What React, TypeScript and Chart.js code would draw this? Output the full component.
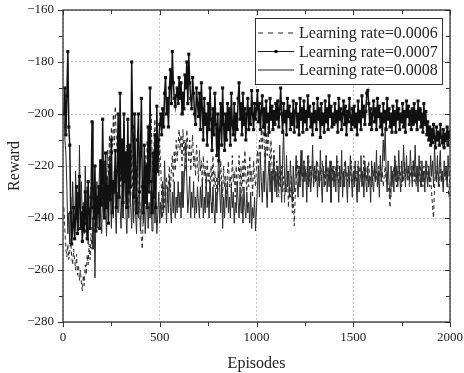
import React, { useEffect, useRef } from "react";
import { Chart, registerables } from "chart.js";
Chart.register(...registerables);

const seriesLabels = ["Learning rate=0.0006", "Learning rate=0.0007", "Learning rate=0.0008"];
const xTicks = [0, 500, 1000, 1500, 2000];
const yTicks = [-280, -260, -240, -220, -200, -180, -160];

// reward every 5 episodes (5 .. 2000), one row = 100 episodes
const lr0006 = [
  -236, -245, -252, -255, -250, -256, -253, -248, -255, -258, -252, -256, -260, -254, -262, -258, -264, -260, -265, -268,
  -262, -266, -258, -262, -254, -258, -250, -256, -246, -252, -242, -248, -236, -244, -238, -232, -240, -228, -236, -222,
  -232, -240, -226, -218, -230, -214, -224, -208, -220, -205, -216, -200, -212, -197, -208, -215, -222, -206, -218, -228,
  -210, -222, -204, -218, -230, -212, -226, -236, -220, -232, -214, -228, -240, -222, -234, -226, -218, -238, -230, -242,
  -248, -252, -238, -226, -216, -230, -210, -224, -204, -218, -200, -214, -226, -212, -202, -220, -208, -216, -224, -212,
  -220, -232, -240, -228, -236, -230, -224, -234, -226, -220, -230, -222, -216, -226, -214, -222, -210, -218, -212, -206,
  -214, -208, -220, -206, -216, -210, -222, -206, -212, -218, -210, -222, -214, -208, -220, -216, -224, -212, -218, -226,
  -214, -222, -218, -228, -216, -224, -220, -230, -218, -226, -222, -232, -220, -226, -216, -228, -222, -234, -224, -230,
  -222, -228, -218, -226, -232, -220, -228, -224, -234, -222, -218, -228, -224, -230, -216, -226, -222, -232, -220, -228,
  -224, -216, -228, -220, -232, -218, -226, -214, -224, -230, -220, -228, -216, -226, -222, -232, -218, -224, -228, -220,
  -214, -222, -210, -218, -206, -214, -202, -212, -220, -208, -216, -204, -214, -222, -210, -220, -226, -214, -222, -228,
  -218, -226, -232, -222, -228, -220, -230, -224, -234, -226, -230, -222, -236, -228, -232, -224, -238, -230, -243, -232,
  -226, -218, -224, -220, -228, -216, -222, -226, -218, -224, -220, -228, -222, -216, -226, -220, -224, -218, -228, -222,
  -222, -226, -218, -224, -228, -220, -226, -218, -224, -222, -228, -216, -224, -220, -226, -222, -218, -226, -224, -220,
  -226, -220, -224, -218, -228, -222, -226, -220, -224, -228, -218, -224, -222, -226, -220, -228, -222, -218, -226, -224,
  -220, -226, -222, -228, -218, -224, -220, -226, -222, -228, -216, -224, -220, -226, -222, -218, -226, -224, -228, -220,
  -224, -218, -226, -222, -228, -220, -224, -218, -226, -222, -228, -224, -220, -226, -222, -228, -230, -236, -226, -222,
  -226, -220, -224, -218, -228, -222, -226, -220, -224, -228, -222, -226, -218, -224, -220, -226, -222, -228, -224, -220,
  -224, -218, -226, -222, -228, -220, -224, -226, -218, -224, -222, -228, -220, -226, -224, -218, -226, -222, -228, -224,
  -230, -236, -240, -228, -222, -226, -220, -224, -228, -218, -226, -222, -228, -224, -220, -226, -222, -228, -232, -224,
];

const lr0007 = [
  -200, -190, -208, -193, -176, -205, -212, -238, -250, -243, -236, -248, -240, -228, -246, -235, -224, -244, -238, -249,
  -236, -245, -230, -242, -248, -226, -238, -244, -232, -203, -236, -240, -220, -245, -232, -238, -228, -244, -218, -235,
  -202, -232, -240, -215, -236, -228, -242, -220, -233, -210, -238, -226, -230, -214, -236, -222, -200, -232, -192, -225,
  -210, -234, -200, -226, -215, -236, -202, -230, -212, -228, -180, -205, -232, -200, -222, -238, -210, -200, -230, -216,
  -194, -228, -238, -212, -234, -220, -236, -205, -230, -190, -226, -238, -215, -232, -208, -236, -197, -222, -210, -204,
  -200, -208, -198, -205, -192, -186, -200, -194, -205, -190, -183, -196, -176, -188, -194, -197, -193, -190, -196, -186,
  -194, -188, -200, -192, -198, -185, -190, -180, -196, -177, -188, -194, -198, -186, -192, -200, -204, -190, -196, -201,
  -192, -206, -188, -198, -210, -194, -204, -200, -212, -196, -206, -190, -202, -214, -198, -208, -192, -204, -216, -200,
  -218, -206, -196, -212, -190, -204, -214, -200, -210, -196, -206, -198, -212, -192, -204, -208, -196, -210, -200, -206,
  -194, -188, -202, -196, -208, -192, -204, -198, -210, -200, -194, -206, -198, -204, -191, -200, -206, -196, -202, -198,
  -191, -203, -196, -206, -199, -193, -205, -198, -208, -195, -203, -200, -207, -194, -202, -197, -206, -199, -204, -196,
  -202, -195, -205, -198, -190, -200, -207, -196, -203, -199, -208, -194, -201, -197, -206, -200, -204, -195, -207, -199,
  -196, -205, -200, -208, -194, -202, -198, -207, -195, -203, -199, -206, -193, -201, -197, -205, -200, -208, -196, -203,
  -199, -206, -194, -202, -198, -209, -196, -204, -200, -207, -195, -203, -198, -206, -193, -201, -197, -205, -200, -204,
  -196, -203, -199, -207, -194, -202, -198, -206, -200, -195, -204, -197, -208, -199, -203, -194, -201, -206, -198, -204,
  -197, -205, -200, -208, -195, -203, -199, -206, -193, -201, -197, -204, -199, -192, -191, -196, -204, -198, -206, -200,
  -195, -203, -198, -206, -194, -201, -197, -205, -200, -208, -196, -203, -199, -206, -194, -202, -198, -205, -200, -207,
  -197, -204, -199, -207, -195, -202, -198, -206, -200, -203, -196, -205, -199, -207, -195, -201, -197, -204, -199, -206,
  -198, -204, -196, -203, -199, -206, -195, -202, -198, -205, -200, -207, -196, -204, -199, -208, -203, -210, -205, -212,
  -206, -211, -204, -209, -213, -205, -210, -207, -212, -204, -209, -211, -206, -213, -208, -210, -205, -212, -207, -209,
];

const lr0008 = [
  -198, -210, -215, -228, -246, -238, -250, -232, -244, -226, -240, -248, -222, -236, -230, -245, -212, -238, -226, -242,
  -234, -246, -220, -240, -228, -250, -236, -244, -228, -240, -252, -232, -263, -240, -226, -244, -230, -218, -238, -246,
  -228, -240, -218, -236, -247, -224, -238, -216, -232, -244, -226, -240, -222, -234, -246, -230, -238, -214, -236, -244,
  -226, -240, -232, -218, -238, -246, -228, -240, -220, -236, -244, -230, -242, -224, -238, -246, -232, -240, -228, -245,
  -238, -226, -242, -232, -246, -236, -228, -244, -234, -240, -230, -245, -236, -228, -242, -234, -246, -238, -230, -242,
  -234, -240, -226, -238, -218, -232, -242, -228, -238, -224, -236, -242, -230, -238, -226, -240, -232, -238, -226, -236,
  -230, -240, -222, -236, -228, -218, -211, -226, -238, -232, -224, -240, -230, -236, -226, -240, -232, -238, -228, -234,
  -240, -228, -236, -226, -240, -232, -238, -224, -236, -230, -240, -226, -234, -238, -228, -236, -242, -230, -238, -226,
  -213, -230, -238, -226, -244, -232, -240, -228, -236, -226, -238, -232, -240, -228, -236, -230, -242, -234, -238, -226,
  -234, -240, -228, -238, -232, -242, -228, -236, -240, -230, -238, -234, -242, -230, -244, -236, -240, -232, -245, -236,
  -228, -220, -232, -216, -226, -234, -222, -230, -214, -228, -236, -224, -218, -230, -222, -234, -226, -216, -230, -222,
  -232, -220, -228, -212, -226, -234, -218, -206, -224, -230, -216, -228, -222, -232, -218, -226, -234, -220, -230, -224,
  -216, -226, -232, -220, -228, -214, -224, -232, -218, -226, -222, -234, -216, -228, -220, -230, -224, -212, -228, -220,
  -226, -218, -232, -222, -228, -214, -226, -234, -220, -228, -224, -216, -230, -222, -228, -218, -234, -224, -220, -228,
  -222, -230, -216, -226, -234, -220, -228, -214, -232, -222, -228, -218, -226, -234, -220, -228, -216, -224, -232, -222,
  -228, -218, -226, -234, -220, -230, -224, -216, -228, -222, -232, -218, -226, -230, -220, -228, -224, -234, -218, -226,
  -230, -220, -226, -214, -228, -222, -232, -216, -226, -220, -210, -218, -205, -222, -230, -218, -226, -232, -220, -228,
  -222, -230, -216, -226, -220, -228, -214, -224, -230, -218, -226, -212, -222, -228, -216, -224, -220, -226, -214, -222,
  -228, -218, -224, -212, -226, -220, -230, -216, -224, -228, -218, -226, -222, -230, -218, -224, -228, -220, -226, -216,
  -224, -218, -228, -212, -222, -226, -216, -228, -220, -214, -226, -222, -230, -218, -224, -220, -228, -216, -224, -222,
];

const EP_STEP = 5;
const toPoints = (arr: number[]) => arr.map((y, i) => ({ x: (i + 1) * EP_STEP, y }));

const FONT = "'Liberation Serif', 'Times New Roman', serif";
const INK = "#222";

const framePlugin = {
  id: "frame",
  afterDraw(chart: any) {
    const { ctx, chartArea } = chart;
    const { left, right, top, bottom } = chartArea;
    const xs = chart.scales.x;
    const ys = chart.scales.y;
    ctx.save();
    ctx.strokeStyle = "#333";
    ctx.lineWidth = 1.3;
    ctx.strokeRect(left, top, right - left, bottom - top);
    ctx.lineWidth = 1;
    ctx.beginPath();
    for (let v = 0; v <= 2000; v += 250) {
      const px = Math.round(xs.getPixelForValue(v)) + 0.5;
      const len = v % 500 === 0 ? 5 : 4;
      ctx.moveTo(px, bottom);
      ctx.lineTo(px, bottom + len);
      ctx.moveTo(px, top);
      ctx.lineTo(px, top + len);
    }
    for (let v = -280; v <= -160; v += 10) {
      const py = Math.round(ys.getPixelForValue(v)) + 0.5;
      const len = v % 20 === 0 ? 5 : 4;
      ctx.moveTo(left - len, py);
      ctx.lineTo(left, py);
      ctx.moveTo(right - len, py);
      ctx.lineTo(right, py);
    }
    ctx.stroke();

    // legend
    const bx = 255, by = 18, bw = 187, bh = 66;
    ctx.fillStyle = "#fff";
    ctx.fillRect(bx, by, bw, bh);
    ctx.strokeStyle = "#333";
    ctx.lineWidth = 1;
    ctx.strokeRect(bx + 0.5, by + 0.5, bw, bh);
    const rows = [33, 51.5, 70];
    ctx.font = `16px ${FONT}`;
    ctx.textBaseline = "middle";
    ctx.textAlign = "left";
    rows.forEach((ry, i) => {
      ctx.beginPath();
      ctx.strokeStyle = "#222";
      ctx.lineWidth = 1;
      ctx.setLineDash(i === 0 ? [5, 5] : []);
      ctx.moveTo(258, ry);
      ctx.lineTo(294, ry);
      ctx.stroke();
      ctx.setLineDash([]);
      if (i === 1) {
        ctx.fillStyle = "#111";
        ctx.fillRect(274.5, ry - 1.5, 3, 3);
      }
      ctx.fillStyle = INK;
      ctx.fillText(seriesLabels[i], 299, ry + 1);
    });
    ctx.restore();
  },
};

export default function App() {
  const ref = useRef<HTMLCanvasElement | null>(null);
  useEffect(() => {
    if (!ref.current) return;
    const chart = new Chart(ref.current, {
      type: "line",
      data: {
        datasets: [
          {
            label: seriesLabels[1],
            data: toPoints(lr0007),
            borderColor: "#111",
            backgroundColor: "#111",
            borderWidth: 1.5,
            pointStyle: "rect",
            pointRadius: 2.2,
            pointBorderWidth: 0,
            pointBackgroundColor: "#111",
            tension: 0,
            order: 0,
          },
          {
            label: seriesLabels[2],
            data: toPoints(lr0008),
            borderColor: "#2a2a2a",
            borderWidth: 1,
            pointRadius: 0,
            tension: 0,
            order: 1,
          },
          {
            label: seriesLabels[0],
            data: toPoints(lr0006),
            borderColor: "#2a2a2a",
            borderWidth: 1,
            borderDash: [4, 3],
            pointRadius: 0,
            tension: 0,
            order: 2,
          },
        ] as any,
      },
      options: {
        animation: false,
        responsive: false,
        devicePixelRatio: 1,
        layout: { padding: { top: 10, right: 14, left: 0, bottom: 0 } },
        plugins: { legend: { display: false }, tooltip: { enabled: false } },
        scales: {
          x: {
            type: "linear",
            min: 0,
            max: 2000,
            afterBuildTicks: (s: any) => {
              s.ticks = xTicks.map((v) => ({ value: v }));
            },
            afterFit: (s: any) => {
              s.height = 51;
              s.paddingLeft = 0;
              s.paddingRight = 0;
            },
            ticks: {
              font: { family: FONT, size: 13 },
              color: INK,
              padding: 8,
              maxRotation: 0,
              callback: (v: any) => String(v),
            },
            grid: { drawTicks: false, color: "#c4c4c4", lineWidth: 1 },
            border: { display: false, dash: [2, 2] },
            title: {
              display: true,
              text: "Episodes",
              font: { family: FONT, size: 16 },
              color: INK,
              padding: { top: 0, bottom: 0 },
            },
          },
          y: {
            type: "linear",
            min: -280,
            max: -160,
            afterBuildTicks: (s: any) => {
              s.ticks = yTicks.map((v) => ({ value: v }));
            },
            afterFit: (s: any) => {
              s.width = 63;
              s.paddingTop = 0;
              s.paddingBottom = 0;
            },
            ticks: {
              font: { family: FONT, size: 13 },
              color: INK,
              padding: 9,
              callback: (v: any) => String(v).replace("-", "\u2212"),
            },
            grid: { drawTicks: false, color: "#c4c4c4", lineWidth: 1 },
            border: { display: false, dash: [2, 2] },
            title: {
              display: true,
              text: "Reward",
              font: { family: FONT, size: 16 },
              color: INK,
              padding: { top: 5, bottom: 0 },
            },
          },
        },
      } as any,
      plugins: [framePlugin],
    });
    return () => chart.destroy();
  }, []);
  return (
    <div style={{ position: "fixed", left: 0, top: 0, width: 464, height: 373, background: "#fff" }}>
      <canvas ref={ref} width={464} height={373} />
    </div>
  );
}
